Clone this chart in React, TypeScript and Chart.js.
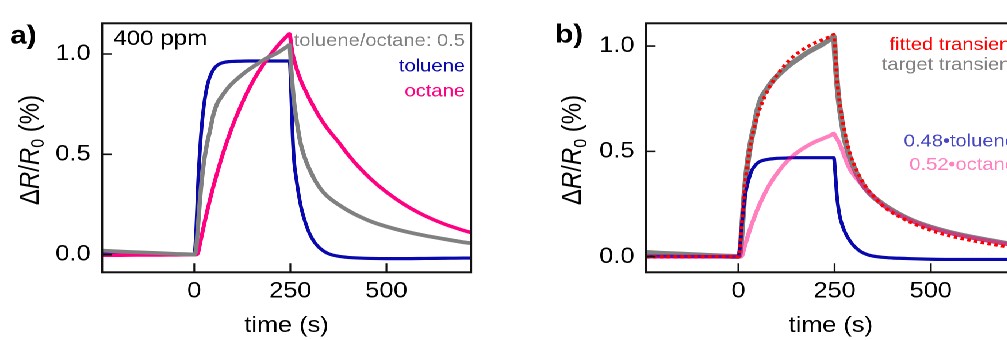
import React, { useEffect, useRef } from "react";
import { Chart, registerables } from "chart.js";

Chart.register(...registerables);

// ---------------- data ----------------
const time = [
  -240, -200, -150, -100, -50, 0, 5, 10, 15, 20, 25, 30, 35, 40, 50, 60, 70, 80, 90, 100,
  120, 140, 160, 180, 200, 220, 240, 248, 252, 256, 260, 265, 270, 275, 280, 290, 300, 310,
  320, 335, 350, 375, 400, 430, 460, 500, 550, 600, 650, 700, 720,
];

// panel a) measured transients at 400 ppm
const toluene = [
  0.004, 0.003, 0.003, 0.002, 0.001, 0.0, 0.12, 0.36, 0.53, 0.654, 0.742, 0.806, 0.851, 0.883,
  0.923, 0.944, 0.954, 0.959, 0.962, 0.963, 0.964, 0.965, 0.965, 0.965, 0.965, 0.965, 0.965,
  0.965, 0.81, 0.59, 0.46, 0.385, 0.32, 0.265, 0.22, 0.155, 0.105, 0.07, 0.045, 0.02, 0.004,
  -0.008, -0.014, -0.017, -0.019, -0.02, -0.02, -0.019, -0.018, -0.017, -0.017,
];
const octane = [
  -0.003, -0.003, -0.002, -0.002, -0.001, 0.0, 0.0, 0.01, 0.056, 0.1, 0.145, 0.187, 0.228, 0.267,
  0.342, 0.41, 0.475, 0.535, 0.59, 0.643, 0.736, 0.818, 0.888, 0.948, 1.001, 1.047, 1.087, 1.1,
  1.05, 1.0, 0.97, 0.935, 0.905, 0.88, 0.855, 0.815, 0.775, 0.74, 0.705, 0.66, 0.62, 0.562,
  0.499, 0.433, 0.376, 0.312, 0.246, 0.194, 0.153, 0.121, 0.11,
];
const mixture = [
  0.02, 0.016, 0.012, 0.008, 0.004, 0.001, 0.03, 0.15, 0.28, 0.38, 0.46, 0.52, 0.57, 0.61, 0.7,
  0.755, 0.785, 0.812, 0.836, 0.856, 0.89, 0.92, 0.945, 0.97, 0.99, 1.01, 1.035, 1.045, 0.93,
  0.835, 0.755, 0.685, 0.625, 0.57, 0.53, 0.47, 0.425, 0.385, 0.352, 0.313, 0.285, 0.25, 0.22,
  0.19, 0.165, 0.14, 0.115, 0.095, 0.078, 0.062, 0.057,
];

// panel b) decomposition of the mixture transient
const tolueneWeighted = [
  0.002, 0.002, 0.001, 0.001, 0.0, 0.0, 0.06, 0.17, 0.255, 0.315, 0.355, 0.385, 0.41, 0.425,
  0.445, 0.455, 0.46, 0.463, 0.465, 0.467, 0.468, 0.47, 0.47, 0.47, 0.47, 0.47, 0.47, 0.47, 0.39,
  0.29, 0.23, 0.18, 0.15, 0.125, 0.105, 0.075, 0.052, 0.035, 0.022, 0.01, 0.003, -0.003, -0.006,
  -0.008, -0.01, -0.012, -0.013, -0.013, -0.013, -0.013, -0.013,
];
const octaneWeighted = [
  -0.002, -0.002, -0.001, -0.001, 0.0, 0.0, 0.0, 0.007, 0.04, 0.071, 0.101, 0.129, 0.156, 0.18,
  0.227, 0.268, 0.305, 0.339, 0.368, 0.394, 0.44, 0.476, 0.504, 0.527, 0.546, 0.561, 0.576,
  0.585, 0.572, 0.56, 0.548, 0.528, 0.505, 0.48, 0.455, 0.415, 0.388, 0.365, 0.343, 0.312, 0.287,
  0.245, 0.215, 0.187, 0.163, 0.137, 0.112, 0.092, 0.075, 0.06, 0.055,
];
const fitted = [
  0.0, 0.0, 0.0, 0.0, 0.0, 0.0, 0.06, 0.177, 0.295, 0.386, 0.456, 0.514, 0.566, 0.605, 0.672,
  0.723, 0.765, 0.802, 0.833, 0.861, 0.908, 0.946, 0.974, 0.997, 1.016, 1.031, 1.046, 1.055,
  0.962, 0.85, 0.778, 0.708, 0.655, 0.605, 0.56, 0.49, 0.44, 0.4, 0.365, 0.322, 0.29, 0.242,
  0.209, 0.179, 0.153, 0.125, 0.099, 0.079, 0.062, 0.047, 0.042,
];

const xTicks = [0, 250, 500];
const yTicks = [0, 0.5, 1.0];

const xTitle = "time (s)";
const legendA = ["toluene/octane: 0.5", "toluene", "octane"];
const legendB = ["fitted transient", "target transient", "0.48\u2022toluene", "0.52\u2022octane"];
const concentrationLabel = "400 ppm";

// ---------------- styling ----------------
const S = 1.15; // horizontal stretch of the original figure
const FONT = "'Liberation Sans', Arial, Helvetica, sans-serif";
const BLUE = "rgb(8,8,172)";
const PINK = "rgb(255,0,128)";
const GRAY = "rgb(128,128,128)";
const RED = "rgb(255,0,0)";

const pts = (ys: number[]) => time.map((t, i) => ({ x: t, y: ys[i] }));

type Note = { text: string; x: number; y: number; color: string; size: number; align: CanvasTextAlign; bold?: boolean };

function drawYTitle(ctx: CanvasRenderingContext2D, x: number, cy: number, size: number) {
  const parts = [
    { t: "\u0394", f: `${size}px ${FONT}`, dy: 0 },
    { t: "R", f: `italic ${size}px ${FONT}`, dy: 0 },
    { t: "/", f: `${size}px ${FONT}`, dy: 0 },
    { t: "R", f: `italic ${size}px ${FONT}`, dy: 0 },
    { t: "0", f: `${Math.round(size * 0.68)}px ${FONT}`, dy: size * 0.2 },
    { t: " (%)", f: `${size}px ${FONT}`, dy: 0 },
  ];
  ctx.save();
  let total = 0;
  const widths = parts.map((p) => {
    ctx.font = p.f;
    const w = ctx.measureText(p.t).width;
    total += w;
    return w;
  });
  ctx.translate(x, cy);
  ctx.rotate(-Math.PI / 2);
  ctx.fillStyle = "#000";
  ctx.textAlign = "left";
  ctx.textBaseline = "alphabetic";
  let pos = -total / 2;
  parts.forEach((p, i) => {
    ctx.font = p.f;
    ctx.fillText(p.t, pos, p.dy);
    pos += widths[i];
  });
  ctx.restore();
}

function makePlugin(yTitleX: number, notes: Note[]) {
  return {
    id: "decor",
    afterDraw(chart: any) {
      const { ctx, chartArea: a, scales } = chart;
      ctx.save();
      ctx.strokeStyle = "#111";
      ctx.lineWidth = 2;
      ctx.strokeRect(a.left, a.top, a.right - a.left, a.bottom - a.top);
      ctx.lineWidth = 1.6;
      ctx.beginPath();
      for (const v of xTicks) {
        const px = scales.x.getPixelForValue(v);
        ctx.moveTo(px, a.bottom);
        ctx.lineTo(px, a.bottom - 9);
      }
      for (const v of yTicks) {
        const py = scales.y.getPixelForValue(v);
        ctx.moveTo(a.left, py);
        ctx.lineTo(a.left + 8.4, py);
      }
      ctx.stroke();
      ctx.restore();

      drawYTitle(ctx, yTitleX, 150, 24);

      ctx.save();
      ctx.textBaseline = "alphabetic";
      for (const n of notes) {
        ctx.font = `${n.bold ? "bold " : ""}${n.size}px ${FONT}`;
        ctx.fillStyle = n.color;
        ctx.textAlign = n.align;
        ctx.fillText(n.text, n.x, n.y);
      }
      ctx.restore();
    },
  };
}

function makeConfig(
  datasets: any[],
  yMin: number,
  yMax: number,
  yAxisWidth: number,
  padRight: number,
  plugin: any
): any {
  return {
    type: "line",
    data: { datasets },
    options: {
      animation: false,
      responsive: false,
      devicePixelRatio: 2,
      events: [],
      layout: { padding: { left: 0, right: padRight, top: 23.3, bottom: 0 } },
      elements: {
        point: { radius: 0 },
        line: { cubicInterpolationMode: "monotone", borderCapStyle: "round", borderJoinStyle: "round", fill: false },
      },
      plugins: { legend: { display: false }, tooltip: { enabled: false } },
      scales: {
        x: {
          type: "linear",
          min: -240,
          max: 720,
          grid: { display: false, drawTicks: false },
          border: { display: false },
          afterBuildTicks: (s: any) => {
            s.ticks = xTicks.map((v) => ({ value: v }));
          },
          afterFit: (s: any) => {
            s.height = 340 - 272.3;
          },
          ticks: {
            font: { family: FONT, size: 22 },
            color: "#000",
            padding: 6,
            maxRotation: 0,
            autoSkip: false,
            callback: (v: number) => String(v),
          },
          title: {
            display: true,
            text: xTitle,
            font: { family: FONT, size: 22 },
            color: "#000",
            padding: { top: 0, bottom: 1 },
          },
        },
        y: {
          type: "linear",
          min: yMin,
          max: yMax,
          grid: { display: false, drawTicks: false },
          border: { display: false },
          afterBuildTicks: (s: any) => {
            s.ticks = yTicks.map((v) => ({ value: v }));
          },
          afterFit: (s: any) => {
            s.width = yAxisWidth;
          },
          ticks: {
            font: { family: FONT, size: 22 },
            color: "#000",
            padding: 10,
            callback: (v: number) => Number(v).toFixed(1),
          },
        },
      },
    },
    plugins: [plugin],
  };
}

const OFFSET_B = 435; // left of canvas B in unstretched coordinates

export default function App() {
  const refA = useRef<HTMLCanvasElement | null>(null);
  const refB = useRef<HTMLCanvasElement | null>(null);

  useEffect(() => {
    if (!refA.current || !refB.current) return;

    const notesA: Note[] = [
      { text: "a)", x: 8.7, y: 43.5, color: "#000", size: 26, align: "left", bold: true },
      { text: concentrationLabel, x: 98.5, y: 45, color: "#000", size: 21, align: "left" },
      { text: legendA[0], x: 404.3, y: 46, color: GRAY, size: 17.5, align: "right" },
      { text: legendA[1], x: 404.3, y: 71.6, color: BLUE, size: 17.5, align: "right" },
      { text: legendA[2], x: 404.3, y: 96.6, color: PINK, size: 17.5, align: "right" },
    ];
    const rb = 1016 / S - OFFSET_B;
    const notesB: Note[] = [
      { text: "b)", x: 555 / S - OFFSET_B, y: 42.5, color: "#000", size: 26, align: "left", bold: true },
      { text: legendB[0], x: rb, y: 50, color: RED, size: 17.5, align: "right" },
      { text: legendB[1], x: rb, y: 70, color: GRAY, size: 17.5, align: "right" },
      { text: legendB[2], x: rb, y: 146.5, color: "rgba(8,8,172,0.75)", size: 17.5, align: "right" },
      { text: legendB[3], x: rb, y: 170, color: "rgba(255,0,128,0.5)", size: 17.5, align: "right" },
    ];

    const chartA = new Chart(
      refA.current,
      makeConfig(
        [
          { data: pts(mixture), borderColor: GRAY, borderWidth: 3.8, order: 0 },
          { data: pts(octane), borderColor: PINK, borderWidth: 3.5, order: 1 },
          { data: pts(toluene), borderColor: BLUE, borderWidth: 3.2, order: 2 },
        ],
        -0.088,
        1.153,
        102 / S,
        435 - 471 / S,
        makePlugin(38.3 / S, notesA)
      )
    );

    const chartB = new Chart(
      refB.current,
      makeConfig(
        [
          { data: pts(fitted), borderColor: RED, borderWidth: 3.2, borderDash: [3, 3], borderCapStyle: "butt", order: 0 },
          { data: pts(octaneWeighted), borderColor: "rgba(255,0,128,0.5)", borderWidth: 3.8, order: 1 },
          { data: pts(tolueneWeighted), borderColor: BLUE, borderWidth: 3.2, order: 2 },
          { data: pts(mixture), borderColor: GRAY, borderWidth: 5, order: 3 },
        ],
        -0.074,
        1.108,
        646 / S - OFFSET_B,
        470 - (1015.5 / S - OFFSET_B),
        makePlugin(581 / S - OFFSET_B, notesB)
      )
    );

    return () => {
      chartA.destroy();
      chartB.destroy();
    };
  }, []);

  return (
    <div
      style={{
        position: "fixed",
        left: 0,
        top: 0,
        width: 905,
        height: 340,
        transform: `scaleX(${S})`,
        transformOrigin: "0 0",
        background: "#fff",
      }}
    >
      <canvas ref={refA} width={435} height={340} style={{ position: "absolute", left: 0, top: 0 }} />
      <canvas ref={refB} width={470} height={340} style={{ position: "absolute", left: OFFSET_B, top: 0 }} />
    </div>
  );
}
